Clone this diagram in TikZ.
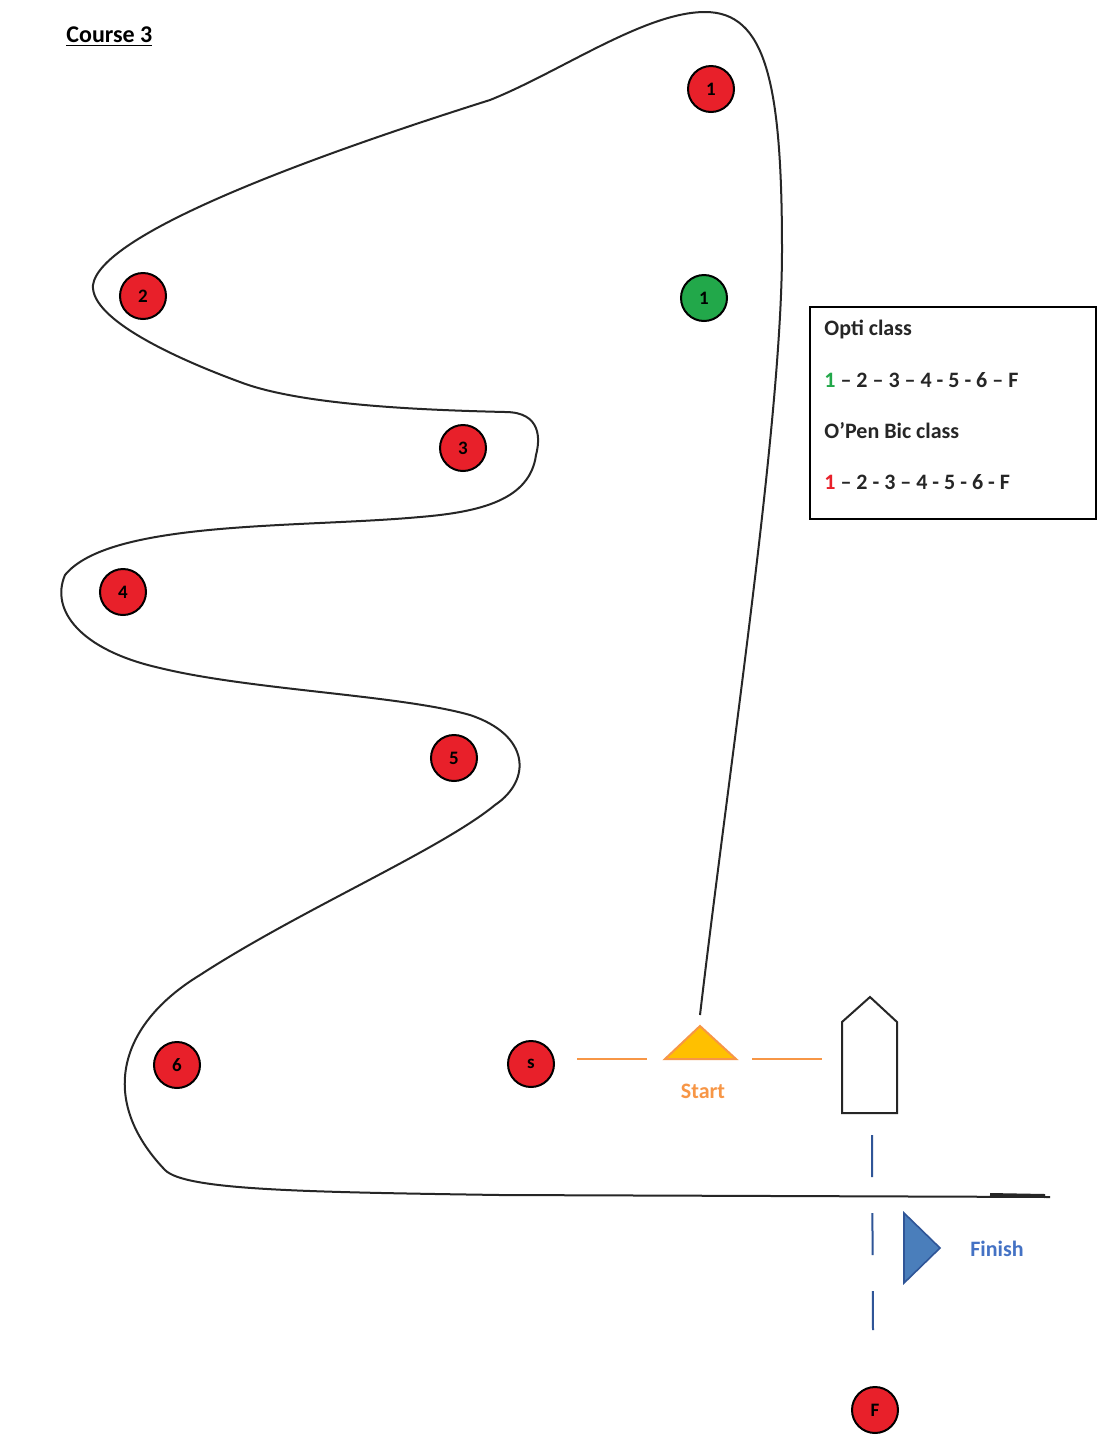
\documentclass[tikz,border=0pt]{standalone}
\usepackage{fontspec}
\setmainfont{Carlito}
\begin{document}
\begin{tikzpicture}[x=0.5pt,y=-0.5pt,
  buoy/.style={circle,draw=black,line width=1pt,minimum size=23pt,inner sep=0pt,font=\fontsize{9.5}{10}\selectfont\bfseries},
  redbuoy/.style={buoy,fill=markred},
  greenbuoy/.style={buoy,fill=markgreen},
  course/.style={line width=1pt,black!85},
  legtext/.style={anchor=west,font=\fontsize{11}{13}\selectfont\bfseries,inner sep=0pt,text=black!85}]
\definecolor{markred}{HTML}{E8202A}
\definecolor{markgreen}{HTML}{22A84A}
\definecolor{startorange}{HTML}{F79646}
\definecolor{startfill}{HTML}{FFC000}
\definecolor{finblue}{HTML}{4A7EBB}
\definecolor{finline}{HTML}{2F5597}
\definecolor{fintext}{HTML}{4472C4}
\useasboundingbox (0,0) rectangle (1113,1452);
\fill[white] (0,0) rectangle (1113,1452);

% title
\node[anchor=west,inner sep=0pt,font=\fontsize{12}{14}\selectfont\bfseries] (title) at (66,37) {\underline{Course 3}};

% course line
\draw[course] (700,1015) .. controls (730,760) and (782,420) .. (782,250)
  .. controls (782,80) and (765,12) .. (705,12)
  .. controls (645,12) and (560,72) .. (490,100)
  .. controls (300,160) and (100,235) .. (93,285)
  .. controls (90,320) and (180,360) .. (240,382)
  .. controls (300,405) and (420,410) .. (505,412)
  .. controls (542,412) and (540,440) .. (536,455)
  .. controls (530,500) and (480,512) .. (420,517)
  .. controls (300,528) and (110,520) .. (65,575)
  .. controls (50,610) and (80,650) .. (160,668)
  .. controls (250,690) and (400,695) .. (470,715)
  .. controls (530,735) and (532,780) .. (495,805)
  .. controls (440,850) and (300,910) .. (200,975)
  .. controls (118,1025) and (98,1100) .. (165,1170)
  .. controls (185,1190) and (300,1192) .. (500,1195) -- (1050,1197);
\draw[line width=2pt,black!85] (990,1195) -- (1045,1196);

% marks
\node[redbuoy] (m1r) at (711,89) {1};
\node[greenbuoy] (m1g) at (704,298) {1};
\node[redbuoy] (m2) at (143,296) {2};
\node[redbuoy] (m3) at (463,448) {3};
\node[redbuoy] (m4) at (123,592) {4};
\node[redbuoy] (m5) at (454,758) {5};
\node[redbuoy] (m6) at (177,1065) {6};
\node[redbuoy] (ms) at (531,1064) {s};
\node[redbuoy] (mf) at (875,1410) {F};

% legend
\node[draw=black,line width=1pt,minimum width=143pt,minimum height=106pt,anchor=north west,inner sep=0pt] (legend) at (809,306) {};
\node[legtext] (l1) at (824,329) {Opti class};
\node[legtext] (l2) at (824,380) {\textcolor{markgreen}{1} – 2 – 3 – 4 - 5 - 6 – F};
\node[legtext] (l3) at (824,431) {O’Pen Bic class};
\node[legtext] (l4) at (824,482) {\textcolor{markred}{1} – 2 - 3 – 4 - 5 - 6 - F};

% start
\coordinate (sl1) at (577,1059);
\coordinate (sl2) at (647,1059);
\coordinate (sr1) at (752,1059);
\coordinate (sr2) at (822,1059);
\draw[startorange,line width=1pt] (sl1) -- (sl2);
\draw[startorange,line width=1pt] (sr1) -- (sr2);
\draw[fill=startfill,draw=startorange,line width=1pt] (665,1059) -- (700,1026) -- (736,1059) -- cycle;
\node[text=startorange,font=\fontsize{11}{13}\selectfont\bfseries] (start) at (703,1091) {Start};

% committee boat
\draw[line width=1pt,black!85,fill=white] (842,1022) -- (870,997) -- (897,1022) -- (897,1113) -- (842,1113) -- cycle;

% finish line
\coordinate (f1) at (872,1135);
\coordinate (f2) at (873,1330);
\draw[finline,line width=1pt,dash pattern=on 21pt off 18pt] (f1) -- (f2);
\draw[fill=finblue,draw=finline,line width=0.8pt] (904,1213) -- (940,1248) -- (904,1283) -- cycle;
\node[text=fintext,font=\fontsize{11}{13}\selectfont\bfseries] (finish) at (997,1249) {Finish};
\end{tikzpicture}
\end{document}
